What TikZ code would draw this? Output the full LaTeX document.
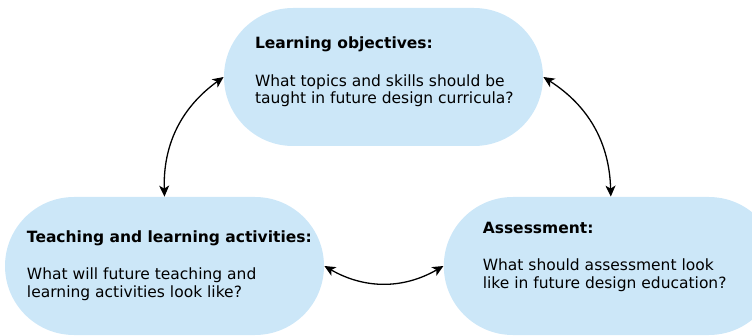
\documentclass[tikz,border=0pt]{standalone}
\usepackage{fontspec}
\setmainfont{DejaVu Sans}
\usetikzlibrary{arrows.meta,positioning}
\definecolor{boxblue}{RGB}{204,231,248}

\begin{document}
\begin{tikzpicture}[x=1pt,y=1pt,thick,
  box/.style={draw=none,fill=boxblue,rounded corners=69pt,minimum width=319pt,minimum height=138pt},
  txt/.style={align=left,inner sep=0pt,anchor=base west,font=\fontsize{15.5}{17.5}\selectfont},
  link/.style={{Stealth[length=11pt,width=10pt,inset=3pt]}-{Stealth[length=11pt,width=10pt,inset=3pt]},line width=1.3pt}]
\useasboundingbox (0,0) rectangle (752,335);
\node[box] (obj) at (383.5,258) {};
\node[box] (teach) at (164.5,69) {};
\node[box,minimum width=334pt,right=119pt of teach] (assess) {};
% text blocks, anchored at the last line
\node[txt] (objtxt) at ([xshift=31pt,yshift=-27pt]obj.west)
  {\textbf{Learning objectives:}\\[20pt]What topics and skills should be\\taught in future design curricula?};
\node[txt] (teachtxt) at ([xshift=22pt,yshift=-31pt]teach.west)
  {\textbf{Teaching and learning activities:}\\[20pt]What will future teaching and\\learning activities look like?};
\node[txt] (assesstxt) at ([xshift=39pt,yshift=-22pt]assess.west)
  {\textbf{Assessment:}\\[20pt]What should assessment look\\like in future design education?};
\path
(teach.north) edge[link,bend left=28] (obj.west)
(obj.east) edge[link,bend left=28] (assess.north)
(assess.west) edge[link,bend left=30] (teach.east);
\end{tikzpicture}
\end{document}
